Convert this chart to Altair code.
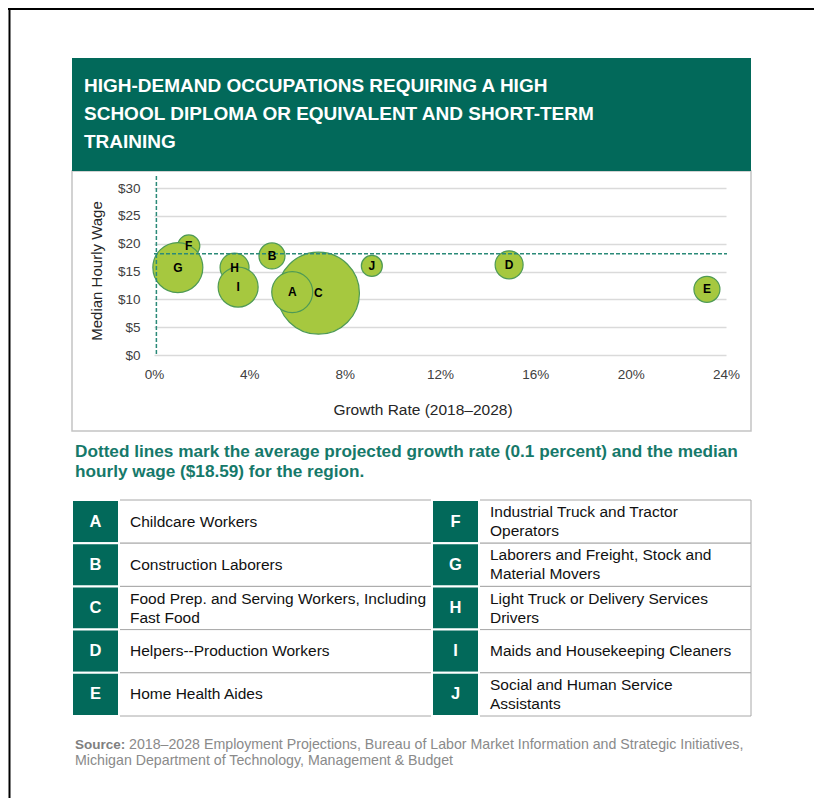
import altair as alt
import pandas as pd

# ---------------- data ----------------
letters = ["C", "A", "B", "D", "E", "F", "G", "H", "I", "J"]
growth = [6.9, 5.8, 4.95, 14.9, 23.2, 1.46, 1.0, 3.38, 3.53, 9.14]      # % growth 2018-2028
wage = [11.1, 11.3, 17.8, 16.2, 11.8, 19.6, 15.7, 15.7, 12.2, 16.0]     # median hourly wage $
bubble = [1681, 420, 169, 196, 169, 121, 625, 210, 400, 110]            # relative bubble size

avg_growth = [0.1]
median_wage = [18.2]

y_ticks = [0, 5, 10, 15, 20, 25, 30]
x_ticks = [0, 4, 8, 12, 16, 20, 24]

table_letters = ["A", "B", "C", "D", "E", "F", "G", "H", "I", "J"]
table_names = [
    "Childcare Workers",
    "Construction Laborers",
    "Food Prep. and Serving Workers, Including\nFast Food",
    "Helpers--Production Workers",
    "Home Health Aides",
    "Industrial Truck and Tractor\nOperators",
    "Laborers and Freight, Stock and\nMaterial Movers",
    "Light Truck or Delivery Services\nDrivers",
    "Maids and Housekeeping Cleaners",
    "Social and Human Service\nAssistants",
]

title_text = "HIGH-DEMAND OCCUPATIONS REQUIRING A HIGH\nSCHOOL DIPLOMA OR EQUIVALENT AND SHORT-TERM\nTRAINING"
note_text = ("Dotted lines mark the average projected growth rate (0.1 percent) and the median\n"
             "hourly wage ($18.59) for the region.")
x_title = "Growth Rate (2018\u20132028)"
y_title = "Median Hourly Wage"
source_bold = "Source:"
source_rest = "2018\u20132028 Employment Projections, Bureau of Labor Market Information and Strategic Initiatives,"
source_line2 = "Michigan Department of Technology, Management & Budget"

# ---------------- styles ----------------
TEAL = "#02695A"
FONT = "Liberation Sans"

W, H = 572, 167
ROW_PX = 43.2
LINE_PX = 19

bubbles_df = pd.DataFrame({"letter": letters, "growth": growth, "wage": wage, "bubble": bubble})
table_df = pd.DataFrame({"letter": table_letters, "name": table_names})
table_df["col"] = [i // 5 for i in range(len(table_df))]
table_df["row"] = [i % 5 for i in range(len(table_df))]


def one(**kw):
    return alt.Chart(pd.DataFrame([kw]))


x_enc = alt.X("growth:Q", scale=alt.Scale(domain=[0, 24], nice=False, zero=True),
              axis=alt.Axis(values=x_ticks, labelExpr="datum.value + '%'", grid=False, domain=False,
                            ticks=False, labelPadding=12, labelFontSize=13.5, labelColor="#404040",
                            labelFont=FONT, labelFlush=False, title=None))
y_enc = alt.Y("wage:Q", scale=alt.Scale(domain=[0, 30], nice=False),
              axis=alt.Axis(values=y_ticks, labelExpr="'$' + datum.value", grid=True, gridColor="#DADADA",
                            gridWidth=1.5, domain=False, ticks=False, labelPadding=14, labelFontSize=13.5,
                            labelColor="#404040", labelFont=FONT, labelFlush=False, title=None))

# ---------------- decoration ----------------
frame_left = one(a=1).mark_rule(color="black", strokeWidth=2).encode(
    x=alt.value(-144.5), y=alt.value(-182), y2=alt.value(620))
frame_top = one(a=1).mark_rule(color="black", strokeWidth=2).encode(
    y=alt.value(-179), x=alt.value(-146), x2=alt.value(670))
panel = one(a=1).mark_rect(fillOpacity=0, stroke="#C4C4C4", strokeWidth=1.5).encode(
    x=alt.value(-82), x2=alt.value(597), y=alt.value(-17), y2=alt.value(243))
title_box = one(a=1).mark_rect(fill=TEAL).encode(
    x=alt.value(-82), x2=alt.value(597), y=alt.value(-130), y2=alt.value(-17))
title = one(t=title_text).mark_text(align="left", baseline="alphabetic", font=FONT, fontSize=19,
                                    fontWeight="bold", color="white", lineBreak="\n", lineHeight=28).encode(
    x=alt.value(-70), y=alt.value(-96), text="t:N")
ytitle = one(t=y_title).mark_text(angle=270, align="center", baseline="middle", font=FONT, fontSize=15,
                                  color="#262626").encode(x=alt.value(-57), y=alt.value(83), text="t:N")
xtitle = one(t=x_title).mark_text(align="center", baseline="middle", font=FONT, fontSize=15.5,
                                  color="#262626").encode(x=alt.value(269), y=alt.value(222), text="t:N")
note = one(t=note_text).mark_text(align="left", baseline="alphabetic", font=FONT, fontSize=17.2,
                                  fontWeight="bold", color="#16796A", lineBreak="\n", lineHeight=20).encode(
    x=alt.value(-79), y=alt.value(269), text="t:N")
src1 = one(t=source_bold).mark_text(align="left", baseline="alphabetic", font=FONT, fontSize=13.5,
                                    fontWeight="bold", color="#808080").encode(
    x=alt.value(-79), y=alt.value(561), text="t:N")
src2 = one(t=source_rest).mark_text(align="left", baseline="alphabetic", font=FONT, fontSize=14.2,
                                    color="#8A8A8A").encode(x=alt.value(-25), y=alt.value(561), text="t:N")
src3 = one(t=source_line2).mark_text(align="left", baseline="alphabetic", font=FONT, fontSize=14.2,
                                     color="#8A8A8A").encode(x=alt.value(-79), y=alt.value(577), text="t:N")

# ---------------- scatter ----------------
vrule = alt.Chart(pd.DataFrame({"growth": avg_growth})).mark_rule(
    color="#2B8A78", strokeWidth=1.5, strokeDash=[4, 2]).encode(x=x_enc, y=alt.value(-12), y2=alt.value(166))
hrule = alt.Chart(pd.DataFrame({"wage": median_wage})).mark_rule(
    color="#2B8A78", strokeWidth=1.5, strokeDash=[4, 2]).encode(y=y_enc, x=alt.value(0), x2=alt.value(573))
circles = alt.Chart(bubbles_df).mark_circle(opacity=1, fill="#A6C83F", stroke="#4E9A55", strokeWidth=1.2).encode(
    x=x_enc, y=y_enc,
    size=alt.Size("bubble:Q", scale=alt.Scale(domain=[0, 1681], range=[0, 6724], zero=True), legend=None))
labels = alt.Chart(bubbles_df).mark_text(font=FONT, fontSize=12, fontWeight="bold", color="black",
                                         baseline="middle").encode(x=x_enc, y=y_enc, text="letter:N")
scatter = alt.layer(circles, vrule, hrule, labels)

# ---------------- table ----------------
row_scale = alt.Scale(domain=[0, 5], range=[312, 528], nice=False, zero=False)
tbase = alt.Chart(table_df).transform_calculate(
    row_end="datum.row + 1",
    row_mid="datum.row + 0.5",
    text_top=f"datum.row + 0.5 - (length(split(datum.name, '\\n')) - 1) * {LINE_PX / 2 / ROW_PX}",
)
ry = alt.Y("row:Q", scale=row_scale, axis=None)
ry2 = alt.Y2("row_end:Q")
rmid = alt.Y("row_mid:Q", scale=row_scale, axis=None)
rtext = alt.Y("text_top:Q", scale=row_scale, axis=None)


def colf(c):
    return tbase.transform_filter(f"datum.col == {c}")


name_cells = [
    colf(c).mark_rect(fill="white", stroke="#A8A8A8", strokeWidth=1).encode(
        x=alt.value(x0), x2=alt.value(x1), y=ry, y2=ry2)
    for c, x0, x1 in [(0, -35, 278), (1, 325, 597)]
]
letter_cells = [
    colf(c).mark_rect(fill=TEAL, stroke="white", strokeWidth=2).encode(
        x=alt.value(x0), x2=alt.value(x1), y=ry, y2=ry2)
    for c, x0, x1 in [(0, -82, -35), (1, 278, 325)]
]
letter_texts = [
    colf(c).mark_text(font=FONT, fontSize=16.5, fontWeight="bold", color="white", baseline="middle").encode(
        x=alt.value(xc), y=rmid, text="letter:N")
    for c, xc in [(0, -58.5), (1, 301.5)]
]
name_texts = [
    colf(c).mark_text(font=FONT, fontSize=15.5, color="#111111", align="left", baseline="middle",
                      lineBreak="\n", lineHeight=LINE_PX).encode(x=alt.value(xl), y=rtext, text="name:N")
    for c, xl in [(0, -24), (1, 336)]
]
table = alt.layer(*name_cells, *letter_cells, *letter_texts, *name_texts)

chart = alt.layer(
    frame_left, frame_top, panel, title_box, title, ytitle, xtitle, note, src1, src2, src3,
    scatter, table
).resolve_scale(y="independent", x="independent").properties(
    width=W, height=H,
    padding={"left": 146, "top": 180, "right": 88, "bottom": 443},
    autosize=alt.AutoSizeParams(type="none"),
    background="white",
).configure_view(stroke=None)

chart.save("out.html", embed_options={"renderer": "svg", "actions": False})
